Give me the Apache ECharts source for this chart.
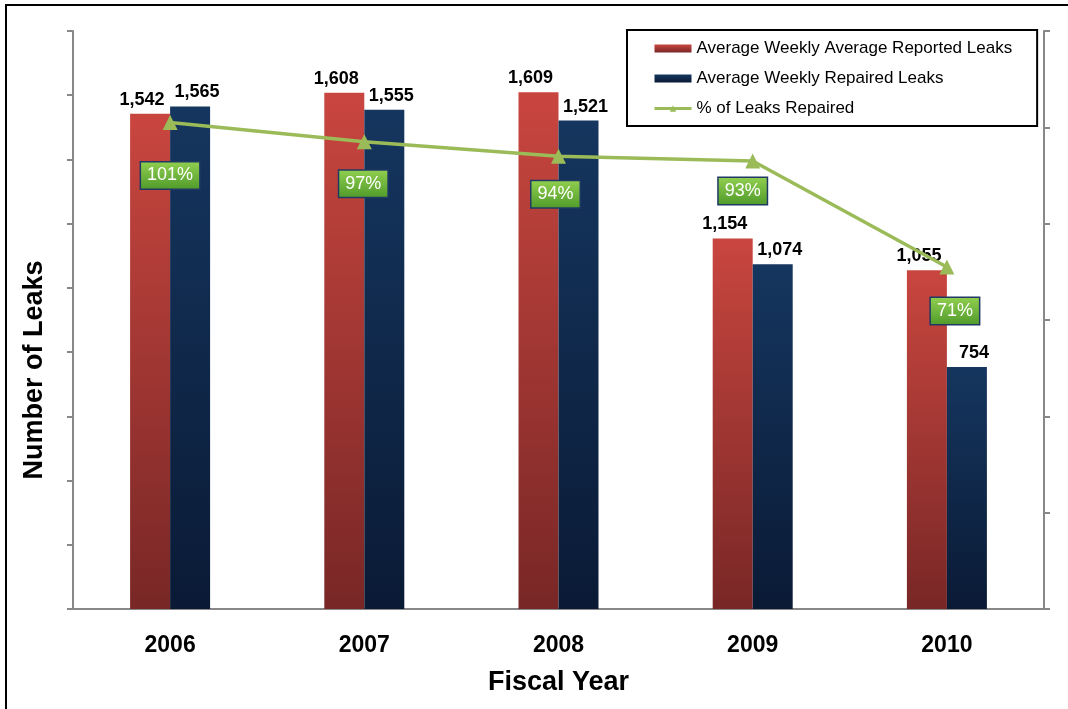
<!DOCTYPE html>
<html>
<head>
<meta charset="utf-8">
<style>
  html, body { margin: 0; padding: 0; background: #fff; }
  #chart { width: 1068px; height: 709px; }
</style>
<script src="https://cdn.jsdelivr.net/npm/echarts@6/dist/echarts.min.js"></script>
</head>
<body>
<div id="chart"></div>
<script>
// Fiscal years on the category axis
const years = ['2006', '2007', '2008', '2009', '2010'];
// Average weekly leak counts
const reportedLeaks = [1542, 1608, 1609, 1154, 1055];
const repairedLeaks = [1565, 1555, 1521, 1074, 754];
// Share of reported leaks that were repaired (%)
const pctRepaired = [101, 97, 94, 93, 71];

// Label placement for the percentage call-outs, [dx, dy] from each point
const pctLabelOffsets = [[0, 53], [-1, 42], [-3, 38], [-10, 30], [8, 44]];

const FONT = '"Liberation Sans", Arial, sans-serif';

const redGrad = new echarts.graphic.LinearGradient(0, 0, 0, 1, [
  { offset: 0, color: '#c9463f' },
  { offset: 1, color: '#782726' }
]);
const blueGrad = new echarts.graphic.LinearGradient(0, 0, 0, 1, [
  { offset: 0, color: '#15365f' },
  { offset: 1, color: '#0a1a35' }
]);
const pctBoxGrad = new echarts.graphic.LinearGradient(0, 0, 0, 1, [
  { offset: 0, color: '#92d050' },
  { offset: 1, color: '#4f9a2a' }
]);

const barLabel = (dx) => ({
  show: true,
  position: 'top',
  distance: 5,
  offset: [dx, 0],
  color: '#000',
  fontFamily: FONT,
  fontWeight: 'bold',
  fontSize: 18,
  formatter: (p) => p.value.toLocaleString('en-US')
});

const chart = echarts.init(document.getElementById('chart'));

chart.setOption({
  animation: false,
  backgroundColor: '#fff',
  graphic: [{
    // frame around the chart area
    type: 'rect',
    shape: { x: 6, y: 5, width: 1100, height: 760 },
    style: { fill: null, stroke: '#000', lineWidth: 2 },
    silent: true,
    z: -1
  }, {
    // vertical axis title
    type: 'text',
    x: 35,
    y: 370,
    rotation: Math.PI / 2,
    style: {
      text: 'Number of Leaks',
      fill: '#000',
      font: 'bold 27px "Liberation Sans", Arial, sans-serif',
      textAlign: 'center',
      textVerticalAlign: 'middle'
    },
    silent: true
  }],
  grid: { left: 73, right: 24, top: 31, bottom: 100, containLabel: false },
  legend: {
    orient: 'vertical',
    left: 627,
    top: 30,
    padding: [10, 25, 9, 26],
    itemGap: 13,
    itemWidth: 37,
    itemHeight: 8,
    backgroundColor: '#fff',
    borderColor: '#000',
    borderWidth: 2,
    textStyle: { fontFamily: FONT, fontSize: 17, color: '#000' },
    data: [
      { name: 'Average Weekly Average Reported Leaks', icon: 'rect' },
      { name: 'Average Weekly Repaired Leaks', icon: 'rect' },
      { name: '% of Leaks Repaired', lineStyle: { width: 3 } }
    ]
  },
  xAxis: {
    type: 'category',
    data: years,
    name: 'Fiscal Year',
    nameLocation: 'middle',
    nameGap: 60,
    nameTextStyle: { fontFamily: FONT, fontWeight: 'bold', fontSize: 27, color: '#000' },
    axisLine: { lineStyle: { color: '#888', width: 2 } },
    axisTick: { show: false },
    axisLabel: { margin: 25, fontFamily: FONT, fontWeight: 'bold', fontSize: 23, color: '#000' }
  },
  yAxis: [{
    type: 'value',
    min: 0,
    max: 1800,
    interval: 200,
    axisLine: { show: true, lineStyle: { color: '#888', width: 2 } },
    axisTick: { show: true, length: 6, lineStyle: { color: '#888', width: 2 } },
    axisLabel: { show: false },
    splitLine: { show: false }
  }, {
    type: 'value',
    min: 0,
    max: 120,
    interval: 20,
    position: 'right',
    axisLine: { show: true, lineStyle: { color: '#888', width: 2 } },
    axisTick: { show: true, length: 6, lineStyle: { color: '#888', width: 2 } },
    axisLabel: { show: false },
    splitLine: { show: false }
  }],
  series: [{
    name: 'Average Weekly Average Reported Leaks',
    type: 'bar',
    data: reportedLeaks,
    barWidth: 40,
    barGap: '0%',
    itemStyle: { color: redGrad },
    label: barLabel(-8)
  }, {
    name: 'Average Weekly Repaired Leaks',
    type: 'bar',
    data: repairedLeaks,
    barWidth: 40,
    barGap: '0%',
    itemStyle: { color: blueGrad },
    label: barLabel(7)
  }, {
    name: '% of Leaks Repaired',
    type: 'line',
    yAxisIndex: 1,
    z: 5,
    symbol: 'triangle',
    symbolSize: 15,
    lineStyle: { color: '#9bbb59', width: 3.5 },
    itemStyle: { color: '#9bbb59' },
    data: pctRepaired.map((v, i) => ({
      value: v,
      label: { offset: pctLabelOffsets[i] }
    })),
    label: {
      show: true,
      position: 'inside',
      formatter: (p) => p.value + '%',
      color: '#fff',
      fontFamily: FONT,
      fontSize: 18,
      backgroundColor: pctBoxGrad,
      borderColor: '#1f3864',
      borderWidth: 1.5,
      padding: [5, 6, 3, 6]
    }
  }]
});
</script>
</body>
</html>
